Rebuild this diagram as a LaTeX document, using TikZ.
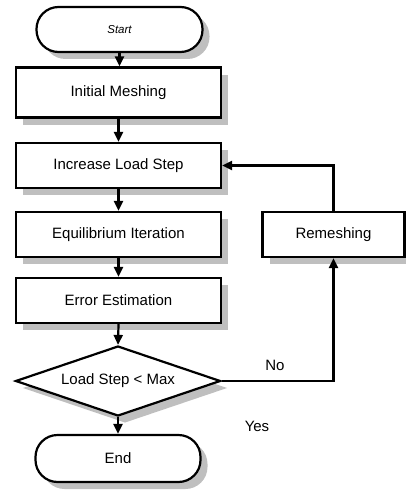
\documentclass[tikz,border=0pt]{standalone}
\usepackage{fontspec}
\setmainfont{Liberation Sans}
\usetikzlibrary{shapes.geometric,arrows.meta,shadows}
\begin{document}
\begin{tikzpicture}[x=1pt,y=-1pt,
  shadowed/.style={drop shadow={shadow xshift=7pt, shadow yshift=-7pt, fill=gray!50, opacity=1}},
  box/.style={draw, line width=2.2pt, fill=white, minimum width=205pt, minimum height=45pt,
    inner sep=0pt, font=\fontsize{15}{18}\selectfont, shadowed},
  term/.style={box, rounded corners=22pt, minimum width=166pt},
  dec/.style={draw, diamond, aspect=2.9, line width=2.2pt, fill=white, inner sep=0pt,
    minimum width=205pt, minimum height=70pt, font=\fontsize{15}{18}\selectfont, shadowed},
  lbl/.style={font=\fontsize{15}{18}\selectfont, inner sep=0pt},
  arr/.style={line width=2.2pt, -{Triangle[length=10pt,width=9pt]}}]
\useasboundingbox (0,0) rectangle (406,495);
\node[term, font=\itshape\fontsize{11.5}{14}\selectfont] (start) at (119.5,29.5) {Start};
\node[box, minimum height=50pt] (init) at (118.5,92.5) {Initial Meshing};
\node[box] (inc) at (118.5,165.5) {Increase Load Step};
\node[box] (eq) at (118.5,234.5) {Equilibrium Iteration};
\node[box] (err) at (118.5,300.5) {Error Estimation};
\node[dec] (dc) at (118,381) {Load Step < Max};
\node[term, minimum width=165pt, minimum height=47pt] (fin) at (118,458.5) {End};
\node[box, minimum width=142pt] (rem) at (333.5,234.5) {Remeshing};
\node[lbl] (no) at (275,365) {No};
\node[lbl] (yes) at (257,426) {Yes};
\draw[arr] (start.south) -- (start.south |- init.north);
\draw[arr] (init.south) -- (inc.north);
\draw[arr] (inc.south) -- (eq.north);
\draw[arr] (eq.south) -- (err.north);
\draw[arr] (err.south) -- (dc.north);
\draw[arr] (dc.south) -- (fin.north);
\draw[arr] (dc.east) -| (rem.south);
\draw[arr] (rem.north) |- (inc.east);
\end{tikzpicture}
\end{document}
